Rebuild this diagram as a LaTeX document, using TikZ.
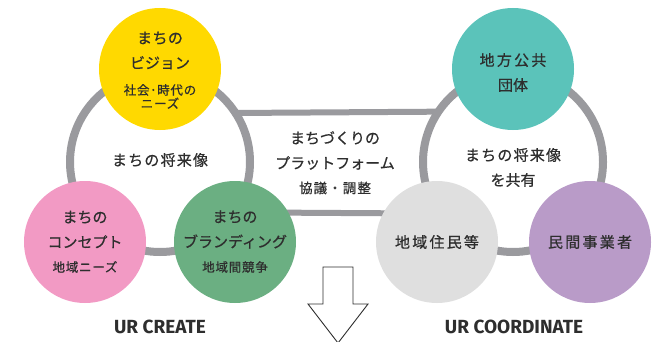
\documentclass[tikz,border=0pt]{standalone}
\usepackage{fontspec}
\setmainfont{Noto Sans CJK JP}[FakeBold=0.7]
\newfontfamily\latinbold{Fira Sans}
\definecolor{ringgray}{HTML}{9A9A9E}
\definecolor{cyellow}{HTML}{FFD900}
\definecolor{cpink}{HTML}{F29AC4}
\definecolor{cgreen}{HTML}{6BAF82}
\definecolor{cteal}{HTML}{5BC3BA}
\definecolor{clgray}{HTML}{DFDFDF}
\definecolor{cpurple}{HTML}{B99BC8}
\definecolor{txt}{HTML}{2E2E2E}
\begin{document}
\begin{tikzpicture}[x=1pt,y=-1pt,
  ring/.style={circle, draw=ringgray, line width=8pt, minimum size=180pt, inner sep=0pt, outer sep=0pt},
  band/.style={draw=ringgray, line width=6pt},
  bubble/.style={circle, minimum size=122pt, inner sep=0pt, outer sep=0pt},
  big/.style={text=txt, align=center, inner sep=0pt, font=\fontsize{15}{25}\selectfont},
  small/.style={text=txt, align=center, inner sep=0pt, font=\fontsize{12.5}{13.5}\selectfont\addfontfeatures{LetterSpace=6}},
  urlabel/.style={text=txt, inner sep=0pt, font=\latinbold\bfseries\fontsize{19}{20}\selectfont}]
\useasboundingbox (0,0) rectangle (668,342);
% rings
\node[ring] (ringL) at (160,162) {};
\node[ring] (ringR) at (513,162) {};
% platform bands
\draw[band] (ringL.33.7) -- (ringR.146.3);
\draw[band] (ringL.-34.5) -- (ringR.-145.5);
% bubbles
\node[bubble, fill=cyellow] (vision) at (160,69) {};
\node[bubble, fill=cpink] (concept) at (85,242) {};
\node[bubble, fill=cgreen] (brand) at (235,242) {};
\node[bubble, fill=cteal] (gov) at (513,69) {};
\node[bubble, fill=clgray] (resid) at (437,242) {};
\node[bubble, fill=cpurple] (priv) at (590,242) {};
% texts
\node[big] (visionA) at (160,50.5) {\addfontfeatures{LetterSpace=3}まちの\\ビジョン};
\node[small] (visionB) at (160,96.5) {社会･時代の\\ニーズ};
\node[big] (centerL) at (160,160) {\addfontfeatures{LetterSpace=8}まちの将来像};
\node[big] (conceptA) at (85,229.5) {まちの\\コンセプト};
\node[small] (conceptB) at (85,267) {地域ニーズ};
\node[big] (brandA) at (235,229.5) {まちの\\ブランディング};
\node[small] (brandB) at (235,267) {地域間競争};
\node[big] (platA) at (335,150.5) {まちづくりの\\プラットフォーム};
\node[small, font=\fontsize{13.5}{14}\selectfont\addfontfeatures{LetterSpace=8}] (platB) at (335,188) {協議・調整};
\node[big] (govT) at (513,72.5) {\addfontfeatures{LetterSpace=15}地方公共\\団体};
\node[big] (centerR) at (513,167.5) {\addfontfeatures{LetterSpace=8}まちの将来像\\を共有};
\node[big] (residT) at (437,242) {\addfontfeatures{LetterSpace=15}地域住民等};
\node[big] (privT) at (590,242) {\addfontfeatures{LetterSpace=15}民間事業者};
% arrow
\draw[draw=txt, fill=white, line width=0.9pt, line join=miter]
  (323,267) -- (353,267) -- (353,304) -- (368,304) -- (338,343) -- (308,304) -- (323,304) -- cycle;
% labels
\node[urlabel] (create) at (160,327) {UR CREATE};
\node[urlabel] (coord) at (514,327) {UR COORDINATE};
\end{tikzpicture}
\end{document}
